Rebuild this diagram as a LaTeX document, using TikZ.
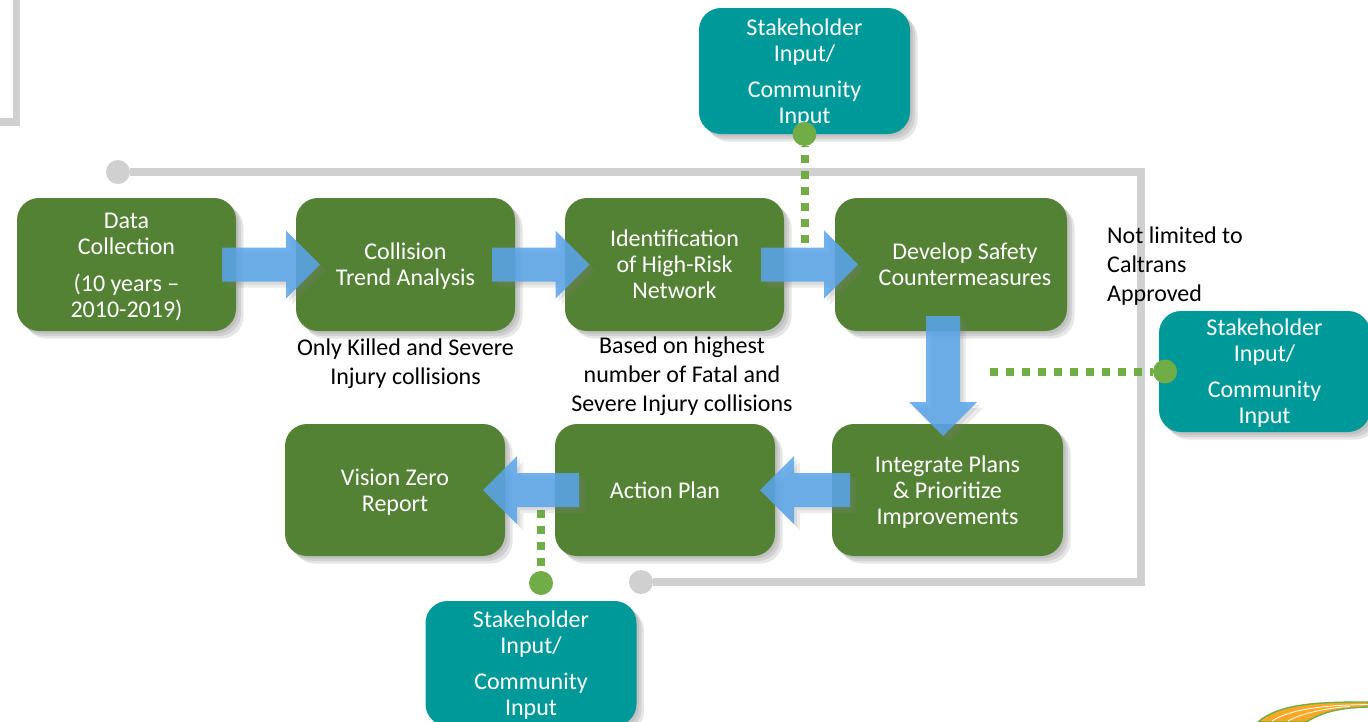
\documentclass[tikz,border=0pt]{standalone}
\usepackage{fontspec}
\setmainfont{Carlito}
\usepackage{tikz}
\usetikzlibrary{positioning, shadows, calc}

\definecolor{stepgreen}{HTML}{548235}
\definecolor{inputteal}{HTML}{009999}
\definecolor{flowblue}{HTML}{5AA5EA}
\definecolor{dotgreen}{HTML}{70AD47}
\definecolor{loopgray}{HTML}{D0D0D0}
\definecolor{roadorange}{HTML}{F9A825}

\newcommand{\lowerline}{\rule{0pt}{20pt}}

\tikzset{
	softshadow/.style={drop shadow={opacity=.2, shadow xshift=7.5pt, shadow yshift=-7.5pt}, drop shadow={opacity=.2, shadow xshift=5pt, shadow yshift=-5pt}, drop shadow={opacity=.2, shadow xshift=2.5pt, shadow yshift=-2.5pt}},
	arrowshadow/.style={drop shadow={opacity=.16, shadow xshift=6pt, shadow yshift=-6pt}, drop shadow={opacity=.16, shadow xshift=3pt, shadow yshift=-3pt}},
	stepbox/.style={rounded corners=22pt, fill=stepgreen, text=white, softshadow, minimum width=219pt, minimum height=133pt, inner sep=0pt, outer sep=0pt, font=\fontsize{24}{26}\selectfont},
	inputbox/.style={rounded corners=22pt, fill=inputteal, text=white, softshadow, minimum width=211pt, minimum height=125pt, inner sep=0pt, outer sep=0pt, font=\fontsize{24}{26}\selectfont},
	note/.style={text=black, inner sep=0pt, font=\fontsize{24}{29}\selectfont},
	blockarrow/.style 2 args={draw=none, fill=flowblue, fill opacity=.86, arrowshadow, to path={
		($(\tikztostart)!#1!(\tikztotarget)!17pt!90:(\tikztotarget)$)
		-- ($(\tikztotarget)!#2!(\tikztostart)!34pt!(\tikztostart)!17pt!-90:(\tikztostart)$)
		-- ($(\tikztotarget)!#2!(\tikztostart)!34pt!(\tikztostart)!34pt!-90:(\tikztostart)$)
		-- ($(\tikztotarget)!#2!(\tikztostart)$)
		-- ($(\tikztotarget)!#2!(\tikztostart)!34pt!(\tikztostart)!34pt!90:(\tikztostart)$)
		-- ($(\tikztotarget)!#2!(\tikztostart)!34pt!(\tikztostart)!17pt!90:(\tikztostart)$)
		-- ($(\tikztostart)!#1!(\tikztotarget)!17pt!-90:(\tikztotarget)$)
		-- cycle}},
	inputlink/.style={draw=dotgreen, line width=8pt, dash pattern=on 8pt off 8pt},
	looplink/.style={draw=loopgray, line width=7.5pt},
	inputdot/.style={circle, fill=dotgreen, minimum size=24pt, inner sep=0pt, outer sep=0pt},
	loopdot/.style={circle, fill=loopgray, minimum size=24pt, inner sep=0pt, outer sep=0pt}
}

\begin{document}
\begin{tikzpicture} [x=1pt, y=-1pt, align=center]

\useasboundingbox (0,0) rectangle (1368,721);

\coordinate (oldstart) 	at (0,122);
\coordinate (oldcorner) at (16.5,122);
\coordinate (oldend) 	at (16.5,0);
\coordinate (loopnortheast) at (1141,172);
\coordinate (loopsoutheast) at (1141,582);

\node[loopdot] 	(loopstart) 	at (118,172) 	{};
\node[loopdot] 	(loopend) 	at (641,582) 	{};

\draw[looplink] (oldstart) -- (oldcorner) -- (oldend);
\draw[looplink] (loopstart) -- (loopnortheast) -- (loopsoutheast) -- (loopend);

\node[stepbox] 	(data) 		at (126.5,264.5) 	{\lowerline Data \\ Collection \\[11pt] (10 years -- \\ 2010-2019)};
\node[stepbox] 	(collision) 	[right=60pt of data] 	{\lowerline Collision \\ Trend Analysis};
\node[stepbox] 	(network) 	[right=50pt of collision] 	{Identification \\ of High-Risk \\ Network};
\node[stepbox, minimum width=232pt] 	(develop) 	[right=51pt of network] 	{\hspace*{28pt}Develop Safety \\ \hspace*{28pt}Countermeasures};
\node[stepbox, minimum width=231pt, minimum height=132pt] 	(integrate) 	[below=93pt of develop, xshift=-3.5pt] 	{\lowerline Integrate Plans \\ \& Prioritize \\ Improvements};
\node[stepbox, minimum width=220pt, minimum height=132pt] 	(action) 	[left=57pt of integrate] 	{Action Plan};
\node[stepbox, minimum width=220pt, minimum height=132pt] 	(vision) 	[left=50pt of action] 	{\lowerline Vision Zero \\ Report};

\node[inputbox, minimum height=126pt] 	(inputtop) 	[above=64pt of develop, xshift=-146.5pt] 	{\lowerline Stakeholder \\ Input/ \\[10pt] Community \\ Input};
\node[inputbox, minimum height=121pt] 	(inputright) 	[below right=-20pt and 92pt of develop] 	{\lowerline Stakeholder \\ Input/ \\[10pt] Community \\ Input};
\node[inputbox] 	(inputbottom) 	[below=45pt of action, xshift=-134pt] 	{\lowerline Stakeholder \\ Input/ \\[10pt] Community \\ Input};

\node[note] 	(collisionnote) 	[below=8pt of collision] 	{Only Killed and Severe \\ Injury collisions};
\node[note] 	(networknote) 	[below=6pt of network, xshift=7.5pt] 	{Based on highest \\ number of Fatal and \\ Severe Injury collisions};
\node[note, align=left] 	(developnote) 	[right=40pt of develop, yshift=-2pt] 	{Not limited to \\ Caltrans \\ Approved};

\node[inputdot] 	(dottop) 	at (inputtop.south) 	{};
\node[inputdot] 	(dotright) 	[right=-6pt of inputright.west] 	{};
\node[inputdot] 	(dotbottom) 	[above=6pt of inputbottom.north, xshift=10pt] 	{};

\coordinate (linktop) 		at (dottop |- develop.north);
\coordinate (linkright) 	at (990,371.5);
\coordinate (linkbottom) 	at (dotbottom |- action.south);
\coordinate (developout) 	at ([xshift=-8pt]develop.south);
\coordinate (integratein) 	at (developout |- integrate.north);

\path[inputlink]
		(dottop) 	edge [dash phase=7pt, shorten >=-46pt] 	(linktop)
		(dotright) 	edge [dash phase=5pt] 	(linkright)
		(dotbottom) 	edge [dash phase=11pt, shorten >=-46pt] 	(linkbottom)
;

\path
		(data) 		edge [blockarrow={95.5pt}{85.5pt}] 	(collision)
		(collision) 	edge [blockarrow={86.5pt}{85pt}] 	(network)
		(network) 	edge [blockarrow={86.5pt}{93pt}] 	(develop)
		(developout) 	edge [blockarrow={-15pt}{-12pt}] 	(integratein)
		(integrate) 	edge [blockarrow={97.5pt}{95pt}] 	(action)
		(action) 	edge [blockarrow={86pt}{88pt}] 	(vision)
;

\filldraw[draw=dotgreen, line width=1.4pt, fill=roadorange] (1258,722) .. controls (1280,703) and (1320,702) .. (1368,702) -- (1368,707) .. controls (1335,708) and (1322,713) .. (1306,722) -- cycle;
\draw[white, line width=.8pt] (1272,721) .. controls (1290,709) and (1325,705) .. (1368,704.5);
\draw[white, line width=.8pt] (1288,721) .. controls (1300,714) and (1325,708) .. (1350,706.5);

\end{tikzpicture}
\end{document}
